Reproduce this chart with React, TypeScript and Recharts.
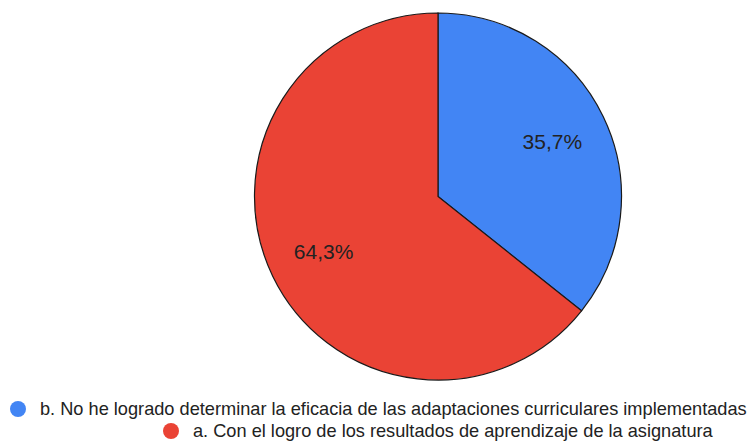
import React from "react";
import { PieChart, Pie, Cell } from "recharts";

const categories = [
  "b. No he logrado determinar la eficacia de las adaptaciones curriculares implementadas",
  "a. Con el logro de los resultados de aprendizaje de la asignatura",
];
const values = [35.7, 64.3];
const colors = ["#4285F4", "#EA4335"];

const data = categories.map((name, i) => ({ name, value: values[i] }));

const RAD = Math.PI / 180;

const renderLabel = (props: any) => {
  const { cx, cy, midAngle, value } = props;
  const r = 127;
  const x = cx + r * Math.cos(-midAngle * RAD);
  const y = cy + r * Math.sin(-midAngle * RAD);
  return (
    <text
      x={x}
      y={y}
      fill="#222"
      fontSize={21}
      fontFamily="Liberation Sans, Arial, sans-serif"
      textAnchor="middle"
      dominantBaseline="central"
    >
      {value.toFixed(1).replace(".", ",") + "%"}
    </text>
  );
};

// legend rows sit where the original puts them (centre y of each row)
const rowPos = [
  { left: 10, mid: 409 },
  { left: 163, mid: 431 },
];

export default function App() {
  return (
    <div
      style={{
        position: "fixed",
        left: 0,
        top: 0,
        width: 755,
        height: 442,
        background: "#fff",
      }}
    >
      <PieChart width={755} height={442} margin={{ top: 0, right: 0, bottom: 0, left: 0 }}>
        <Pie
          data={data}
          dataKey="value"
          cx={438}
          cy={196.5}
          outerRadius={183.5}
          startAngle={90}
          endAngle={-270}
          stroke="#1a1a1a"
          strokeWidth={1.2}
          label={renderLabel}
          labelLine={false}
          isAnimationActive={false}
        >
          {data.map((d, i) => (
            <Cell key={d.name} fill={colors[i]} />
          ))}
        </Pie>
      </PieChart>
      {categories.map((c, i) => (
        <div
          key={c}
          style={{
            position: "absolute",
            left: rowPos[i].left,
            top: rowPos[i].mid - 11,
            height: 22,
            display: "flex",
            alignItems: "center",
            whiteSpace: "nowrap",
            fontFamily: "Liberation Sans, Arial, sans-serif",
            fontSize: 18.2,
            color: "#222",
            lineHeight: "22px",
          }}
        >
          <span
            style={{
              display: "inline-block",
              width: 16,
              height: 16,
              borderRadius: "50%",
              background: colors[i],
              marginRight: 14,
            }}
          />
          <span>{c}</span>
        </div>
      ))}
    </div>
  );
}
